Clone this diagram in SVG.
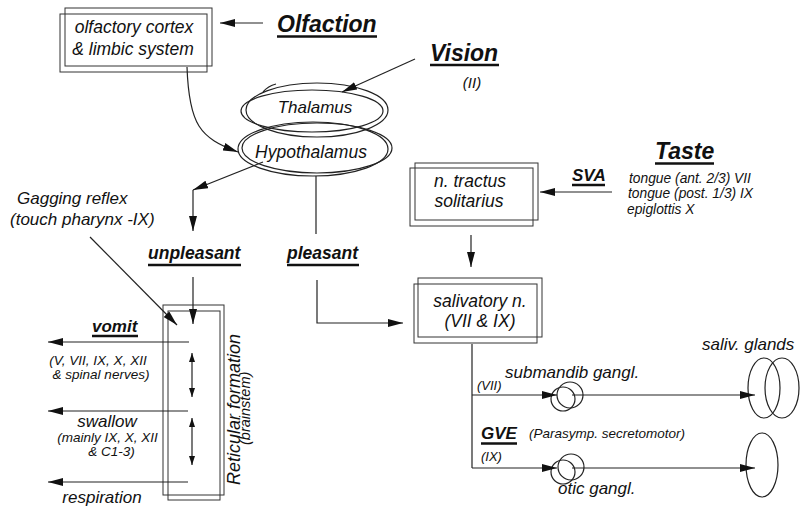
<svg xmlns="http://www.w3.org/2000/svg" width="807" height="521" viewBox="0 0 807 521">
<defs>
<marker id="ah" markerUnits="userSpaceOnUse" markerWidth="16" markerHeight="8" refX="15" refY="4" orient="auto" viewBox="0 0 16 8">
<path d="M0,0 L15,4 L0,8 Z" fill="#111"/>
</marker>
<marker id="sm" markerUnits="userSpaceOnUse" markerWidth="10" markerHeight="6" refX="9" refY="3" orient="auto-start-reverse" viewBox="0 0 10 6">
<path d="M0,0 L9,3 L0,6 Z" fill="#111"/>
</marker>
</defs>
<style>
text{font-family:"Liberation Sans",Arial,sans-serif;font-style:italic;fill:#111}
.t17{font-size:17px}
.t13{font-size:13.5px}
.h{font-weight:bold}
.ul{stroke:#111;stroke-width:2.5}
.box{fill:none;stroke:#333;stroke-width:1}
.ell{fill:none;stroke:#222;stroke-width:1.2}
.c path{fill:none;stroke:#222;stroke-width:1.2}
.a{marker-end:url(#ah)}
.d{marker-start:url(#sm);marker-end:url(#sm)}
</style>
<rect width="807" height="521" fill="#fff"/>

<g id="olfactory-box">
<rect class="box" x="60" y="14" width="147" height="58"/>
<rect class="box" x="65" y="8" width="147" height="58"/>
<text x="134" y="33" text-anchor="middle" style="font-size:17.5px">olfactory cortex</text>
<text x="133" y="55" text-anchor="middle" style="font-size:17.5px">&amp; limbic system</text>
</g>

<g id="olfaction">
<text class="h" x="277" y="32" style="font-size:23px">Olfaction</text>
<line class="ul" x1="277" y1="36.5" x2="377" y2="36.5"/>
</g>

<g id="vision">
<text class="h" x="430" y="61" style="font-size:23px">Vision</text>
<line class="ul" x1="430" y1="65" x2="499" y2="65"/>
<text x="472" y="88" text-anchor="middle" style="font-size:15px">(II)</text>
</g>

<g id="thalamus">
<ellipse class="ell" cx="312" cy="111" rx="71" ry="21"/>
<ellipse class="ell" cx="317" cy="110" rx="71" ry="27"/>
<path class="ell" d="M263,92 Q268,86 276,84"/>
<text class="t17" x="315" y="113" text-anchor="middle">Thalamus</text>
</g>

<g id="hypothalamus">
<ellipse class="ell" cx="313" cy="149" rx="75" ry="27"/>
<ellipse class="ell" cx="317" cy="148" rx="75" ry="25"/>
<text x="311" y="158" text-anchor="middle" style="font-size:17.5px">Hypothalamus</text>
</g>

<g id="gagging">
<text class="t17" x="17" y="204">Gagging reflex</text>
<text class="t17" x="10" y="225">(touch pharynx -IX)</text>
</g>

<g id="unpleasant">
<text class="h" x="148" y="259" style="font-size:17.5px">unpleasant</text>
<line class="ul" x1="148" y1="265" x2="241" y2="265"/>
</g>

<g id="pleasant">
<text class="h" x="287" y="259" style="font-size:17.5px">pleasant</text>
<line class="ul" x1="287" y1="265" x2="359" y2="265"/>
</g>

<g id="reticular-formation">
<rect class="box" x="163" y="305" width="61" height="190"/>
<rect class="box" x="168" y="311" width="52" height="189"/>
<text transform="translate(240,485) rotate(-90)" style="font-size:18px">Reticular formation</text>
<text transform="translate(250,445) rotate(-90)" style="font-size:14.5px">(brainstem)</text>
</g>

<g id="vomit">
<text class="t17 h" x="92" y="332">vomit</text>
<line class="ul" x1="92" y1="336" x2="138" y2="336"/>
<text class="t13" x="98" y="365" text-anchor="middle">(V, VII, IX, X, XII</text>
<text class="t13" x="101" y="379" text-anchor="middle">&amp; spinal nerves)</text>
</g>

<g id="swallow">
<text class="t17" x="107" y="427" text-anchor="middle">swallow</text>
<text class="t13" x="107.5" y="442" text-anchor="middle">(mainly IX, X, XII</text>
<text class="t13" x="111.5" y="456" text-anchor="middle">&amp; C1-3)</text>
</g>

<g id="respiration">
<text class="t17" x="102" y="503" text-anchor="middle">respiration</text>
</g>

<g id="n-tractus-solitarius">
<rect class="box" x="410" y="168" width="123" height="58"/>
<rect class="box" x="415" y="163" width="123" height="57"/>
<text x="470" y="187" text-anchor="middle" style="font-size:17.5px">n. tractus</text>
<text x="469" y="207" text-anchor="middle" style="font-size:17.5px">solitarius</text>
</g>

<g id="taste">
<text class="h" x="655" y="159" style="font-size:23px">Taste</text>
<line class="ul" x1="655" y1="163.5" x2="714" y2="163.5"/>
<text class="t13" x="629" y="183" style="font-size:13.8px">tongue (ant. 2/3) VII</text>
<text class="t13" x="628" y="198" style="font-size:13.8px">tongue (post. 1/3) IX</text>
<text class="t13" x="627" y="214" style="font-size:13.8px">epiglottis X</text>
</g>

<g id="sva">
<text class="t17 h" x="572" y="181">SVA</text>
<line class="ul" x1="572" y1="185" x2="605" y2="185"/>
</g>

<g id="salivatory-n">
<rect class="box" x="414" y="284" width="123" height="59"/>
<rect class="box" x="418" y="278" width="124" height="59"/>
<text x="480" y="307" text-anchor="middle" style="font-size:17.5px">salivatory n.</text>
<text x="480" y="327" text-anchor="middle" style="font-size:17.5px">(VII &amp; IX)</text>
</g>

<g id="submandib-gangl">
<circle class="ell" cx="563" cy="399" r="12"/>
<circle class="ell" cx="570" cy="395" r="13"/>
<text class="t17" x="505" y="378">submandib gangl.</text>
<text class="t13" x="477" y="390" style="font-size:13px">(VII)</text>
</g>

<g id="gve">
<text class="t17 h" x="481" y="439">GVE</text>
<line class="ul" x1="481" y1="443.5" x2="517" y2="443.5"/>
<text class="t13" x="529" y="438">(Parasymp. secretomotor)</text>
<text class="t13" x="481" y="461" style="font-size:13px">(IX)</text>
</g>

<g id="otic-gangl">
<circle class="ell" cx="563" cy="472" r="12"/>
<circle class="ell" cx="571" cy="467" r="13"/>
<text class="t17" x="558" y="494">otic gangl.</text>
</g>

<g id="saliv-glands">
<ellipse class="ell" cx="764" cy="388" rx="16" ry="30"/>
<ellipse class="ell" cx="782" cy="388" rx="17" ry="30"/>
<ellipse class="ell" cx="762" cy="465" rx="16" ry="32"/>
<text class="t17" x="702" y="350">saliv. glands</text>
</g>

<g id="connectors" class="c">
<path class="a" d="M263,23 L220,23"/>
<path class="a" d="M415,59 L342,92"/>
<path class="a" d="M187,67 C189,125 200,138 238,152"/>
<path class="a" d="M263,162 L193,190"/>
<path class="a" d="M193,190 L193,231"/>
<path d="M316,176 L316,234"/>
<path class="a" d="M317,280 L317,323 L403,323"/>
<path class="a" d="M193,277 L193,324"/>
<path class="a" d="M90,237 L177,325"/>
<path class="a" d="M189,342 L48,342"/>
<path class="a" d="M188,411 L48,411"/>
<path class="a" d="M188,482 L48,482"/>
<path class="d" d="M192,353 L192,397"/>
<path class="d" d="M192,418 L192,465"/>
<path class="a" d="M612,192 L540,192"/>
<path class="a" d="M471,235 L471,267"/>
<path d="M472,344 L472,468"/>
<path class="a" d="M472,395 L557,395"/>
<path class="a" d="M472,468 L557,468"/>
<path class="a" d="M572,395 L755,395"/>
<path class="a" d="M572,468 L755,468"/>
</g>
</svg>
